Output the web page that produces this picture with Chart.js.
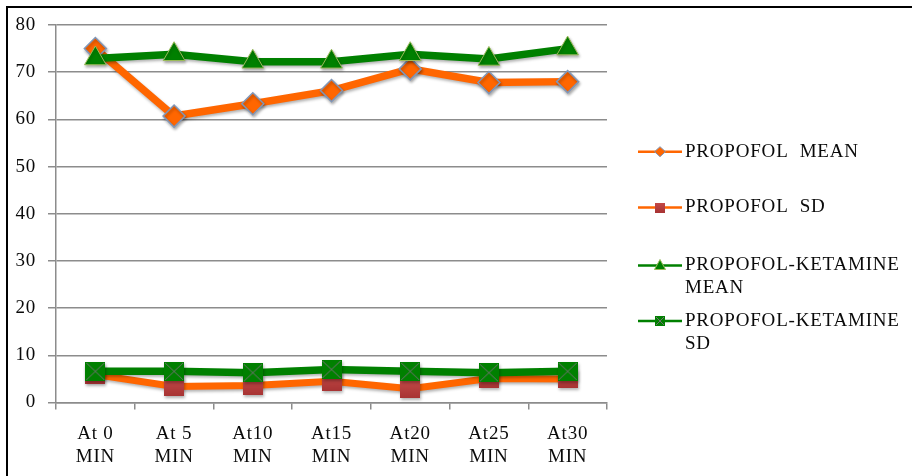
<!DOCTYPE html>
<html>
<head>
<meta charset="utf-8">
<script src="https://cdn.jsdelivr.net/npm/chart.js@4"></script>
<style>
  html, body { margin: 0; padding: 0; background: #fff; }
  #wrap { position: relative; width: 912px; height: 476px; }
</style>
</head>
<body>
<div id="wrap"><canvas id="c" width="912" height="476"></canvas></div>
<script>
// Time points (minutes after induction)
const categories = ['At 0', 'At 5', 'At10', 'At15', 'At20', 'At25', 'At30'];
const unitLabel = 'MIN';

// Series values
const propofolMean = [75.0, 60.7, 63.3, 66.1, 70.7, 67.8, 68.0];
const propofolSD = [5.9, 3.4, 3.6, 4.5, 2.9, 5.1, 5.0];
const pkMean = [72.9, 73.8, 72.2, 72.2, 73.8, 72.8, 75.0];
const pkSD = [6.6, 6.6, 6.3, 7.0, 6.6, 6.3, 6.6];

// Axis range
const yMin = 0, yMax = 80, yStep = 10;

// Legend entries
const legendNames = [
  ['PROPOFOL  MEAN'],
  ['PROPOFOL  SD'],
  ['PROPOFOL-KETAMINE', 'MEAN'],
  ['PROPOFOL-KETAMINE', 'SD']
];

const ORANGE = '#ff6600';
const GREEN = '#008000';
const FONT = '"Liberation Serif", "Times New Roman", serif';
const SPACING = '0.8px';
const TEXT = '#0a0a0a';

// Square point markers (slightly wider than tall), optionally with a grey cross
function squareMarker(w, h, fill, cross) {
  const cv = document.createElement('canvas');
  cv.width = w; cv.height = h;
  const g = cv.getContext('2d');
  const grad = g.createLinearGradient(0, 0, 0, h);
  grad.addColorStop(0, fill[0]);
  grad.addColorStop(1, fill[1]);
  g.fillStyle = grad;
  g.fillRect(0, 0, w, h);
  if (cross) {
    g.strokeStyle = '#707070';
    g.lineWidth = 1;
    g.beginPath();
    g.moveTo(1, 1); g.lineTo(w - 1, h - 1);
    g.moveTo(w - 1, 1); g.lineTo(1, h - 1);
    g.stroke();
  }
  return cv;
}
const propSdMarker = squareMarker(20, 19, ['#c44a48', '#a83434'], false);
const pkSdMarker = squareMarker(20, 19, [GREEN, GREEN], true);
const propSdLegendMarker = squareMarker(10, 10, ['#c44a48', '#a83434'], false);
const pkSdLegendMarker = squareMarker(10, 10, [GREEN, GREEN], true);

const background = {
  id: 'background',
  beforeDraw(chart) {
    const ctx = chart.ctx;
    ctx.save();
    ctx.fillStyle = '#fff';
    ctx.fillRect(0, 0, chart.width, chart.height);
    ctx.restore();
    ctx.letterSpacing = SPACING;
  },
  afterDraw(chart) {
    const ctx = chart.ctx;
    ctx.save();
    ctx.fillStyle = '#000';
    ctx.fillRect(6, 6, chart.width - 6, 2);
    ctx.fillRect(6, 6, 2, chart.height - 6);
    ctx.restore();
  }
};

const softShadow = {
  id: 'softShadow',
  beforeDatasetDraw(chart) {
    const ctx = chart.ctx;
    ctx.save();
    ctx.shadowColor = 'rgba(0,0,0,0.3)';
    ctx.shadowBlur = 3;
    ctx.shadowOffsetX = 1;
    ctx.shadowOffsetY = 2;
  },
  afterDatasetDraw(chart) {
    chart.ctx.restore();
  }
};

// Legend at the right, with wrapped entry names
const sideLegend = {
  id: 'sideLegend',
  afterDraw(chart) {
    const ctx = chart.ctx;
    const rows = [151.7, 207.5, 265.5, 321];
    const lineGap = 23;
    const x0 = 638, x1 = 682, mx = 660;
    ctx.save();
    ctx.letterSpacing = SPACING;
    chart.data.datasets.forEach((ds, i) => {
      const y = rows[i];
      ctx.strokeStyle = ds.borderColor;
      ctx.lineWidth = 2.5;
      ctx.beginPath();
      ctx.moveTo(x0, y); ctx.lineTo(x1, y);
      ctx.stroke();
      if (i === 0) {
        ctx.fillStyle = ORANGE; ctx.strokeStyle = '#7f96b8'; ctx.lineWidth = 1;
        ctx.beginPath();
        ctx.moveTo(mx, y - 5); ctx.lineTo(mx + 5.5, y); ctx.lineTo(mx, y + 5); ctx.lineTo(mx - 5.5, y);
        ctx.closePath(); ctx.fill(); ctx.stroke();
      } else if (i === 1) {
        ctx.drawImage(propSdLegendMarker, mx - 5, y - 5);
      } else if (i === 2) {
        ctx.fillStyle = GREEN; ctx.strokeStyle = '#9bbb59'; ctx.lineWidth = 1;
        ctx.beginPath();
        ctx.moveTo(mx, y - 6); ctx.lineTo(mx + 5.5, y + 4); ctx.lineTo(mx - 5.5, y + 4);
        ctx.closePath(); ctx.fill(); ctx.stroke();
      } else {
        ctx.drawImage(pkSdLegendMarker, mx - 5, y - 5);
      }
      ctx.fillStyle = TEXT;
      ctx.font = '19px ' + FONT;
      ctx.textBaseline = 'middle';
      ctx.textAlign = 'left';
      legendNames[i].forEach((t, k) => ctx.fillText(t, 685, y + k * lineGap));
    });
    ctx.restore();
  }
};

const data = {
  labels: categories.map(c => [c, unitLabel]),
  datasets: [
    {
      label: 'PROPOFOL MEAN', data: propofolMean, order: 2,
      borderColor: ORANGE, borderWidth: 7.5, pointStyle: 'rectRot', pointRadius: 11,
      pointBackgroundColor: ORANGE, pointBorderColor: '#7f96b8', pointBorderWidth: 1.5
    },
    {
      label: 'PROPOFOL SD', data: propofolSD, order: 3,
      borderColor: ORANGE, borderWidth: 7, pointStyle: propSdMarker, pointRadius: 10
    },
    {
      label: 'PROPOFOL-KETAMINE MEAN', data: pkMean, order: 0,
      borderColor: GREEN, borderWidth: 7.5, pointStyle: 'triangle', pointRadius: 12.5,
      pointBackgroundColor: GREEN, pointBorderColor: '#9bbb59', pointBorderWidth: 1
    },
    {
      label: 'PROPOFOL-KETAMINE SD', data: pkSD, order: 1,
      borderColor: GREEN, borderWidth: 7.5, pointStyle: pkSdMarker, pointRadius: 10
    }
  ]
};

new Chart(document.getElementById('c'), {
  type: 'line',
  data,
  options: {
    responsive: false,
    animation: false,
    devicePixelRatio: 1,
    layout: { padding: { top: 25, right: 305, left: 0, bottom: 0 } },
    plugins: { legend: { display: false }, tooltip: { enabled: false } },
    elements: { line: { tension: 0 } },
    scales: {
      x: {
        offset: true,
        afterFit(s) { s.height = 73.5; },
        grid: { offset: true, drawOnChartArea: false, drawTicks: true, tickLength: 7, color: '#8c8c8c', lineWidth: 1.5 },
        border: { color: '#8c8c8c', width: 1.5 },
        ticks: { color: TEXT, font: { family: FONT, size: 19, lineHeight: 1.2 }, padding: 13, maxRotation: 0, autoSkip: false }
      },
      y: {
        min: yMin, max: yMax,
        afterFit(s) { s.width = 56; },
        grid: { color: '#8c8c8c', lineWidth: 1.5, tickLength: 8 },
        border: { color: '#8c8c8c', width: 1.5 },
        ticks: { stepSize: yStep, color: TEXT, font: { family: FONT, size: 19 }, padding: 12 }
      }
    }
  },
  plugins: [background, softShadow, sideLegend]
});
</script>
</body>
</html>
